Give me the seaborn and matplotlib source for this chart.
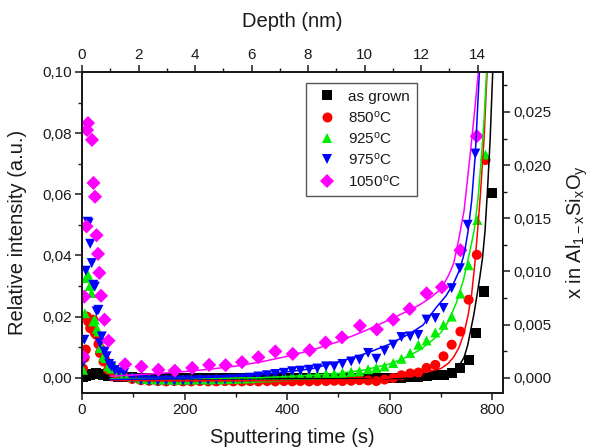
import matplotlib
matplotlib.use("Agg")
import matplotlib.pyplot as plt
from matplotlib.ticker import MultipleLocator, FuncFormatter
import pandas as pd
import seaborn as sns

# ---------------------------------------------------------------- data
samples = ["as grown",
           "850$^{\\mathregular{o}}$C",
           "925$^{\\mathregular{o}}$C",
           "975$^{\\mathregular{o}}$C",
           "1050$^{\\mathregular{o}}$C"]
colors = ["#000000", "#ff0000", "#00ee00", "#0000ff", "#ff00ff"]
markers = ["s", "o", "^", "v", "D"]

# measured profiles: sputtering time (s) and relative Si intensity
t_grown = [1, 4, 8, 12, 16, 20, 24, 28, 32, 36, 40, 45, 50, 55, 62, 70,
           82, 98, 115, 131, 148, 164, 180, 197, 213, 230, 246, 262, 279, 295,
           312, 328, 344, 361, 377, 394, 410, 426, 443, 459, 476, 492, 508,
           525, 541, 558, 574, 590, 607, 623, 640, 656, 672, 689, 705, 721,
           738, 754, 768, 784, 800]
i_grown = [0.0002, 0.0004, 0.0006, 0.0008, 0.0010, 0.0012, 0.0011, 0.0014,
           0.0012, 0.0013, 0.0010, 0.0008, 0.0007, 0.0005, 0.0004, 0.0003,
           0.0002, 0.0001, 0.0000, -0.0002, -0.0001, -0.0002, -0.0001, -0.0002,
           -0.0001, -0.0002, -0.0002, -0.0001, -0.0002, -0.0001, -0.0002,
           -0.0001, -0.0002, -0.0002, -0.0001, -0.0002, -0.0001, -0.0002,
           -0.0001, -0.0002, -0.0001, -0.0002, -0.0001, -0.0002, -0.0001,
           -0.0002, -0.0001, -0.0001, 0.0000, 0.0000, 0.0001, 0.0002, 0.0004,
           0.0008, 0.0010, 0.0015, 0.0032, 0.0059, 0.0146, 0.0282, 0.0604]

t_850 = [2, 5, 7.5, 9.5, 12, 16, 19, 22, 25, 28.5, 32, 35, 38, 42, 45, 51,
         55, 62, 70,
         82, 98, 115, 131, 148, 164, 180, 197, 213, 230, 246, 262, 279, 295,
         312, 328, 344, 361, 377, 394, 410, 426, 443, 459, 476, 492, 508,
         525, 541, 558, 574, 590, 607, 623, 640, 656, 672, 689, 705, 721,
         738, 754, 770, 787]
i_850 = [0.0030, 0.0065, 0.0092, 0.0200, 0.0184, 0.0162, 0.0168, 0.0190,
         0.0146, 0.0140, 0.0110, 0.0081, 0.0092, 0.0053, 0.0059, 0.0026,
         0.0037, 0.0015, 0.0008,
         0.0004, -0.0004, -0.0008, -0.0010, -0.0011, -0.0012, -0.0011,
         -0.0012, -0.0012, -0.0011, -0.0012, -0.0012, -0.0011, -0.0012,
         -0.0012, -0.0011, -0.0012, -0.0011, -0.0012, -0.0011, -0.0012,
         -0.0011, -0.0012, -0.0011, -0.0011, -0.0010, -0.0011, -0.0010,
         -0.0008, -0.0009, -0.0011, -0.0006, -0.0001, 0.0008, 0.0014,
         0.0017, 0.0032, 0.0042, 0.0070, 0.0108, 0.0151, 0.0255, 0.0402,
         0.0712]

t_925 = [2, 5.5, 7.5, 11.5, 15, 18.5, 22, 25, 29, 32, 35, 38.5, 42, 45.5,
         51, 57, 64, 72,
         82, 98, 115, 131, 148, 164, 180, 197, 213, 230, 246, 262, 279, 295,
         312, 328, 344, 361, 377, 394, 410, 426, 443, 459, 476, 492, 508,
         525, 541, 558, 574, 590, 607, 623, 640, 656, 672, 689, 705, 721,
         738, 754, 771, 787]
i_925 = [0.0026, 0.0211, 0.0326, 0.0337, 0.0300, 0.0277, 0.0184, 0.0190,
         0.0160, 0.0151, 0.0097, 0.0097, 0.0070, 0.0064, 0.0037, 0.0030,
         0.0035, 0.0018,
         0.0012, 0.0002, -0.0003, -0.0005, -0.0006, -0.0006, -0.0007,
         -0.0006, -0.0006, -0.0005, -0.0006, -0.0005, -0.0005, -0.0004,
         -0.0003, -0.0002, 0.0000, 0.0001, 0.0002, 0.0004, 0.0005, 0.0007,
         0.0008, 0.0010, 0.0012, 0.0013, 0.0016, 0.0019, 0.0021, 0.0028,
         0.0032, 0.0037, 0.0048, 0.0062, 0.0081, 0.0108, 0.0122, 0.0148,
         0.0173, 0.0200, 0.0275, 0.0368, 0.0516, 0.0730]

t_975 = [2, 4.5, 7.5, 11, 13, 16, 19, 22, 25, 28.5, 32, 35, 38.5, 44, 48,
         53, 57, 64, 72,
         82, 98, 115, 131, 148, 164, 180, 197, 213, 230, 246, 262, 279, 295,
         312, 328, 344, 361, 377, 394, 410, 426, 443, 459, 476, 492, 508,
         525, 541, 558, 574, 590, 607, 623, 640, 656, 672, 689, 705, 721,
         737, 752, 767]
i_975 = [0.0050, 0.0124, 0.0350, 0.0510, 0.0505, 0.0438, 0.0375, 0.0304,
         0.0298, 0.0217, 0.0222, 0.0113, 0.0135, 0.0085, 0.0070, 0.0045,
         0.0037, 0.0025, 0.0018,
         0.0015, -0.0003, -0.0008, -0.0009, -0.0010, -0.0009, -0.0010,
         -0.0009, -0.0009, -0.0008, -0.0008, -0.0007, -0.0006, -0.0005,
         -0.0003, 0.0000, 0.0004, 0.0008, 0.0012, 0.0016, 0.0021, 0.0023,
         0.0026, 0.0030, 0.0037, 0.0037, 0.0045, 0.0053, 0.0059, 0.0081,
         0.0062, 0.0088, 0.0108, 0.0133, 0.0135, 0.0140, 0.0190, 0.0195,
         0.0228, 0.0293, 0.0358, 0.0500, 0.0733]

t_1050 = [2, 4.5, 8.8, 9.8, 11.7, 19.5, 22.4, 25.4, 28.3, 31.2, 33.8, 37.1,
          43.9, 51.7,
          84, 116, 149, 181, 215, 248, 280, 312, 344, 377, 411, 444, 475,
          507, 542, 575, 607, 639, 672, 702, 738, 770]
i_1050 = [0.0070, 0.0265, 0.0495, 0.0810, 0.0833, 0.0778, 0.0637, 0.0592,
          0.0466, 0.0405, 0.0343, 0.0268, 0.0190, 0.0121,
          0.0044, 0.0036, 0.0026, 0.0023, 0.0032, 0.0042, 0.0041, 0.0051,
          0.0067, 0.0086, 0.0078, 0.0090, 0.0115, 0.0132, 0.0170, 0.0158,
          0.0190, 0.0225, 0.0276, 0.0296, 0.0417, 0.0790]

# fitted Si content curves
fit_t_grown = [55, 200, 400, 600, 660, 690, 710, 725, 735, 745, 752, 758,
               764, 770, 776, 781, 786, 791, 796, 801]
fit_i_grown = [-0.0003, -0.0003, -0.0003, -0.0003, -0.0002, -0.0001, 0.0005,
               0.0021, 0.0038, 0.0066, 0.0105, 0.0155, 0.0205, 0.0266, 0.0330,
               0.0390, 0.0480, 0.0620, 0.0780, 0.1000]
fit_t_850 = [55, 150, 250, 350, 450, 550, 600, 640, 660, 680, 700, 715, 725,
             735, 745, 753, 760, 766, 771, 777, 784, 790]
fit_i_850 = [-0.0009, -0.0010, -0.0010, -0.0010, -0.0009, -0.0006, -0.0001,
             0.0008, 0.0015, 0.0022, 0.0030, 0.0048, 0.0068, 0.0098, 0.0145,
             0.0205, 0.0275, 0.0370, 0.0470, 0.0600, 0.0780, 0.1000]
fit_t_925 = [55, 150, 250, 350, 450, 500, 550, 600, 630, 660, 685, 700, 715,
             730, 744, 757, 765, 772, 778, 784, 789]
fit_i_925 = [-0.0003, -0.0003, -0.0002, 0.0000, 0.0008, 0.0014, 0.0025,
             0.0045, 0.0065, 0.0092, 0.0125, 0.0148, 0.0185, 0.0245, 0.0320,
             0.0418, 0.0484, 0.0580, 0.0700, 0.0840, 0.1000]
fit_t_975 = [55, 100, 150, 200, 250, 300, 350, 400, 450, 500, 536, 560, 600,
             640, 665, 690, 710, 725, 737, 746, 753, 760, 767, 775]
fit_i_975 = [-0.0006, -0.0005, -0.0004, -0.0002, 0.0001, 0.0005, 0.0011,
             0.0019, 0.0030, 0.0052, 0.0070, 0.0083, 0.0110, 0.0145, 0.0172,
             0.0228, 0.0268, 0.0310, 0.0355, 0.0410, 0.0480, 0.0580, 0.0730,
             0.1000]
fit_t_1050 = [55, 100, 150, 200, 250, 300, 350, 400, 450, 500, 550, 600, 640,
              660, 680, 700, 715, 725, 735, 745, 757, 765, 773]
fit_i_1050 = [0.0005, 0.0009, 0.0014, 0.0020, 0.0028, 0.0038, 0.0052, 0.0070,
              0.0091, 0.0118, 0.0152, 0.0190, 0.0222, 0.0240, 0.0262, 0.0290,
              0.0335, 0.0375, 0.0455, 0.0545, 0.0729, 0.0860, 0.1000]

# axis conversions
NM_PER_S = 14 / 771.7          # depth scale of the top axis
X_PER_INTENSITY = 0.2876       # Si fraction per unit of relative intensity
T_MAX = 821

# ---------------------------------------------------------------- frames
point_sets = [(t_grown, i_grown), (t_850, i_850), (t_925, i_925),
              (t_975, i_975), (t_1050, i_1050)]
fit_sets = [(fit_t_grown, fit_i_grown), (fit_t_850, fit_i_850),
            (fit_t_925, fit_i_925), (fit_t_975, fit_i_975),
            (fit_t_1050, fit_i_1050)]

points = pd.concat([pd.DataFrame({"time": t, "value": v, "sample": s})
                    for s, (t, v) in zip(samples, point_sets)],
                   ignore_index=True)
fits = pd.concat([pd.DataFrame({"time": t, "value": v, "sample": s})
                  for s, (t, v) in zip(samples, fit_sets)],
                 ignore_index=True)

palette = dict(zip(samples, colors))
marker_map = dict(zip(samples, markers))

# ---------------------------------------------------------------- style
sns.set_style("ticks")
plt.rcParams["font.family"] = ["Liberation Sans", "DejaVu Sans"]
plt.rcParams["mathtext.fontset"] = "custom"
plt.rcParams["mathtext.rm"] = "Liberation Sans"
plt.rcParams["mathtext.it"] = "Liberation Sans:italic"
ink = "#1a1a1a"

fig = plt.figure(figsize=(5.9, 4.47), dpi=100)
ax = fig.add_axes([0.139, 0.1208, 0.7135, 0.7182])

sns.scatterplot(data=points, x="time", y="value", hue="sample",
                style="sample", hue_order=samples, style_order=samples,
                palette=palette, markers=marker_map, s=52, linewidth=0,
                ax=ax, zorder=3)
sns.lineplot(data=fits, x="time", y="value", hue="sample",
             hue_order=samples, palette=palette, estimator=None,
             legend=False, linewidth=1.1, ax=ax, zorder=4)

ax.set_xlim(0, T_MAX)
ax.set_ylim(-0.005, 0.10)
ax.xaxis.set_major_locator(MultipleLocator(200))
ax.xaxis.set_minor_locator(MultipleLocator(100))
ax.yaxis.set_major_locator(MultipleLocator(0.02))
ax.yaxis.set_minor_locator(MultipleLocator(0.01))
ax.yaxis.set_major_formatter(
    FuncFormatter(lambda v, _: f"{v:.2f}".replace(".", ",")))
ax.xaxis.set_major_formatter(FuncFormatter(lambda v, _: f"{v:.0f}"))

ax_r = ax.twinx()
ax_r.set_ylim(-0.005 * X_PER_INTENSITY, 0.10 * X_PER_INTENSITY)
ax_r.yaxis.set_major_locator(MultipleLocator(0.005))
ax_r.yaxis.set_minor_locator(MultipleLocator(0.0025))
ax_r.yaxis.set_major_formatter(
    FuncFormatter(lambda v, _: f"{v:.3f}".replace(".", ",")))

ax_t = ax.twiny()
ax_t.set_xlim(0, T_MAX * NM_PER_S)
ax_t.xaxis.set_major_locator(MultipleLocator(2))
ax_t.xaxis.set_minor_locator(MultipleLocator(1))
ax_t.xaxis.set_major_formatter(FuncFormatter(lambda v, _: f"{v:.0f}"))

for a in (ax, ax_r, ax_t):
    for sp in a.spines.values():
        sp.set_linewidth(1.2)
        sp.set_color(ink)
    a.tick_params(which="major", direction="out", length=5, width=1.1,
                  colors=ink, labelsize=11, pad=2.5)
    a.tick_params(which="minor", direction="out", length=3, width=1.0,
                  colors=ink)

ax.set_xlabel("Sputtering time (s)", fontsize=14.5, color=ink)
ax.set_ylabel("Relative intensity (a.u.)", fontsize=14.5, color=ink)
ax_t.set_xlabel("Depth (nm)", fontsize=14.5, color=ink)
ax_r.set_ylabel("x in Al$_{\\mathregular{1-x}}$Si$_{\\mathregular{x}}$"
                "O$_{\\mathregular{y}}$", fontsize=14.5, color=ink)
ax.xaxis.set_label_coords(0.5, -0.108)
ax.yaxis.set_label_coords(-0.131, 0.5)
ax_r.yaxis.set_label_coords(1.147, 0.5)
ax_t.xaxis.set_label_coords(0.5, 1.14)

handles, labels = ax.get_legend_handles_labels()
leg = ax.legend(handles, labels, loc="upper left",
                bbox_to_anchor=(0.532, 0.966), borderaxespad=0,
                frameon=True, fancybox=False, framealpha=1,
                edgecolor="#555555", fontsize=11, handletextpad=0.5,
                labelspacing=0.35, borderpad=0.45, handlelength=1.8)
leg.get_frame().set_linewidth(1.0)
for txt in leg.get_texts():
    txt.set_color(ink)

fig.savefig("out.png", dpi=100)
